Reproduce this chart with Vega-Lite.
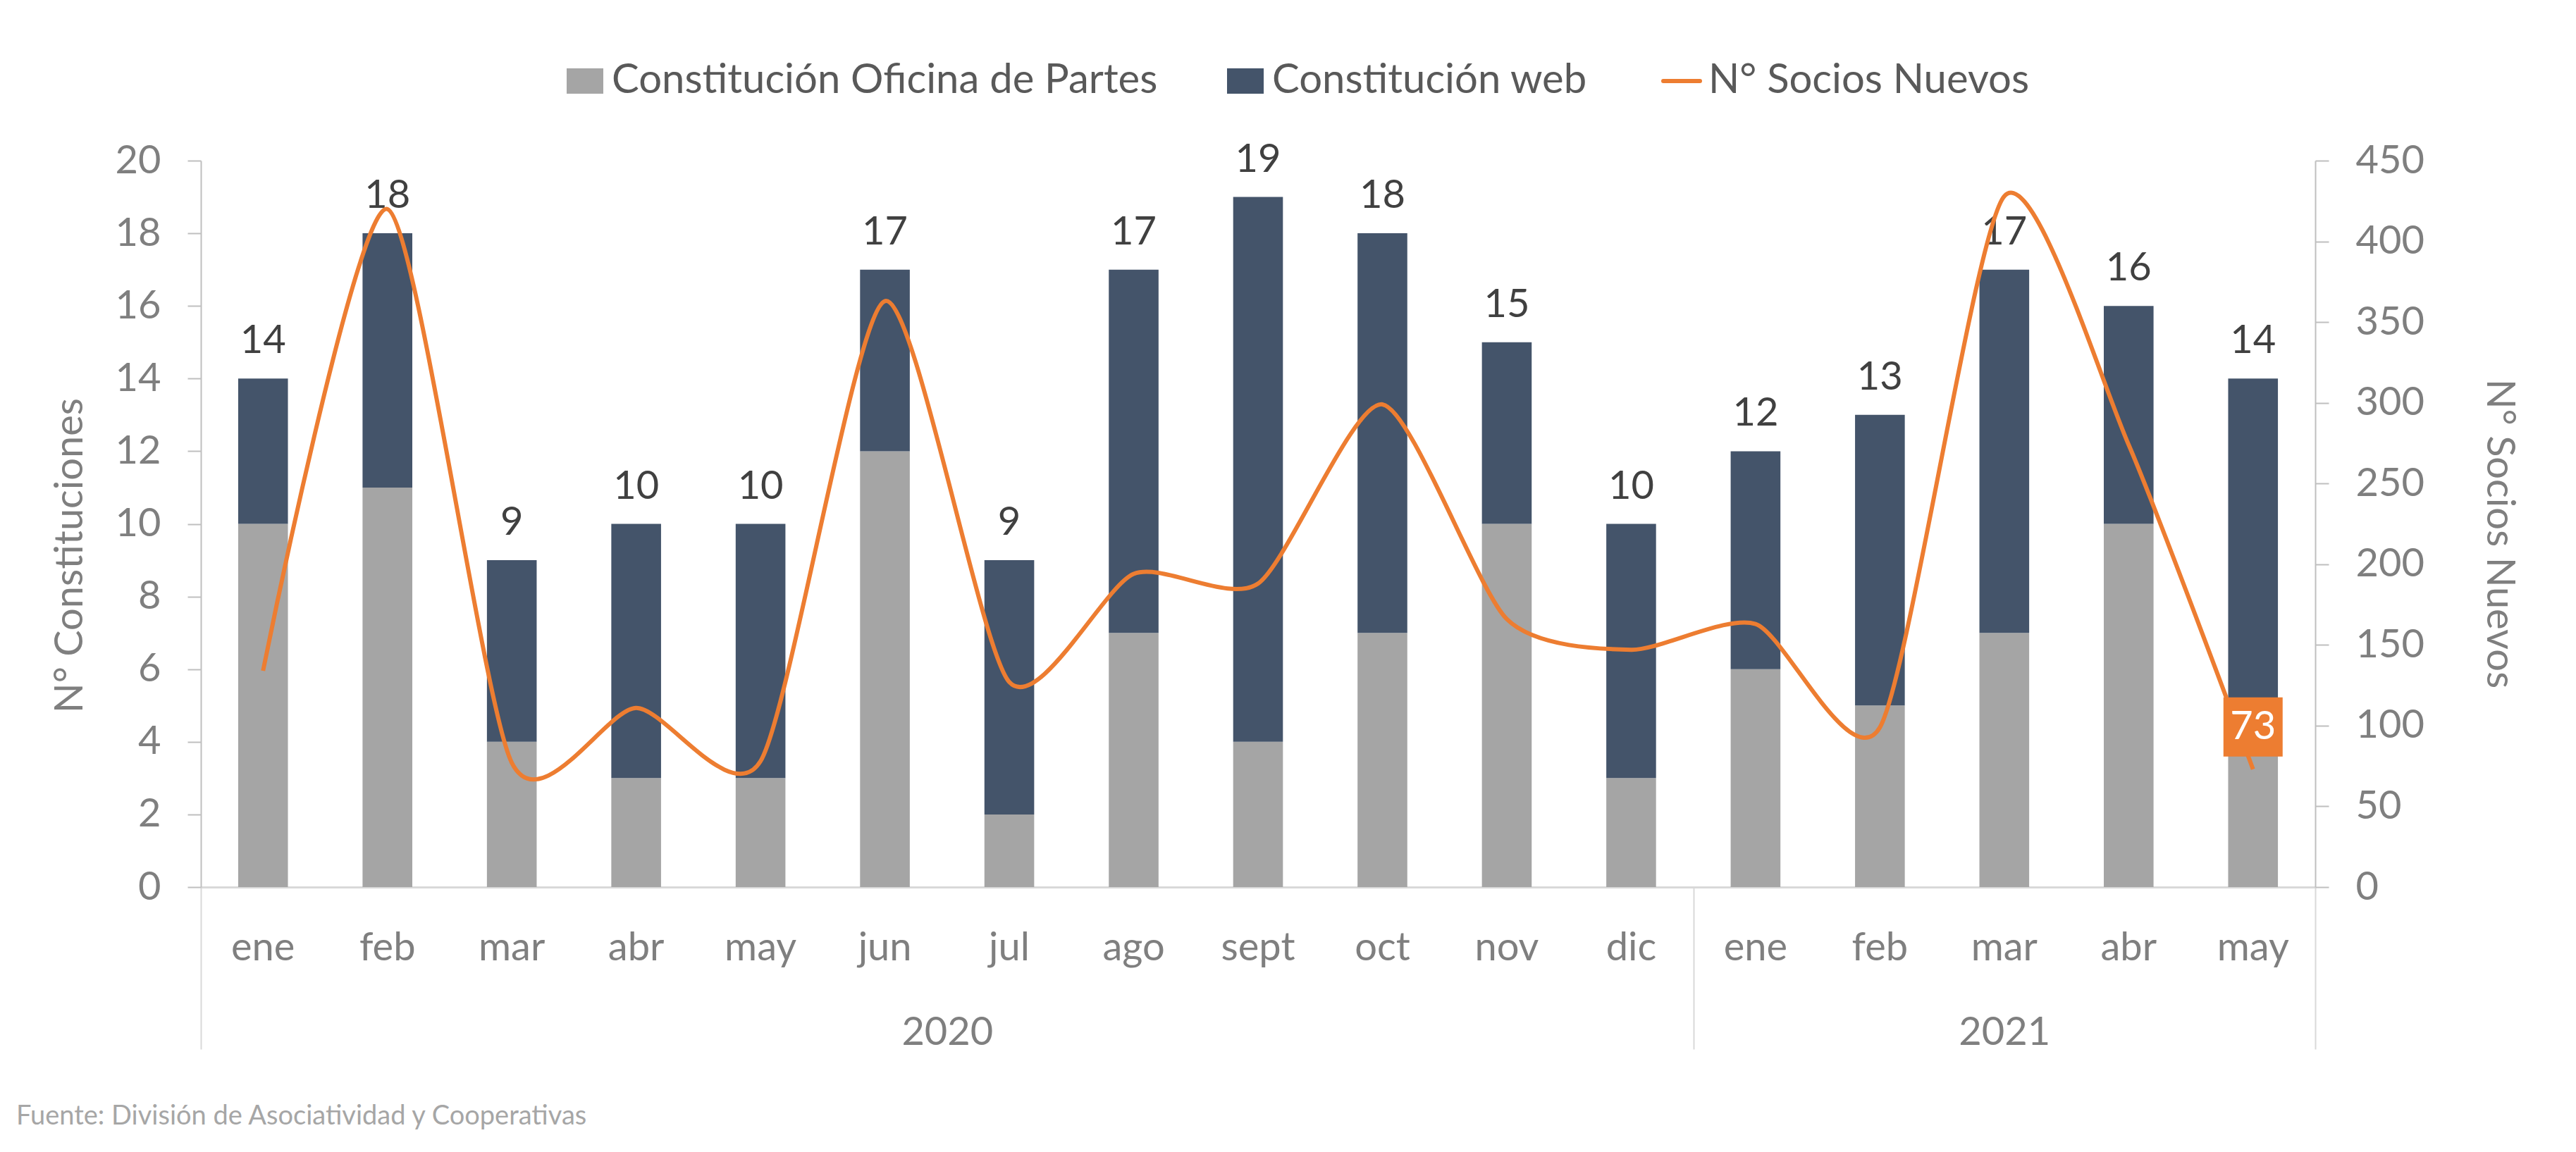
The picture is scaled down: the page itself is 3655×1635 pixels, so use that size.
{
  "$schema": "https://vega.github.io/schema/vega-lite/v6.json",
  "width": 3000,
  "height": 1031,
  "autosize": {"type": "none"},
  "padding": {"left": 285, "top": 228, "right": 370, "bottom": 376},
  "background": "white",
  "config": {"view": {"stroke": null}, "font": "Lato"},
  "title": {
    "text": "Fuente: División de Asociatividad y Cooperativas",
    "orient": "bottom", "anchor": "start", "frame": "group",
    "font": "Lato", "fontSize": 38, "fontWeight": "normal", "color": "#A6A6A6",
    "baseline": "top", "offset": 73, "dx": -262
  },
  "data": {"values": [
    {"periodo": "ene-2020", "oficina": 10, "web": 4, "socios": 134},
    {"periodo": "feb-2020", "oficina": 11, "web": 7, "socios": 420},
    {"periodo": "mar-2020", "oficina": 4, "web": 5, "socios": 77},
    {"periodo": "abr-2020", "oficina": 3, "web": 7, "socios": 111},
    {"periodo": "may-2020", "oficina": 3, "web": 7, "socios": 78},
    {"periodo": "jun-2020", "oficina": 12, "web": 5, "socios": 363},
    {"periodo": "jul-2020", "oficina": 2, "web": 7, "socios": 127},
    {"periodo": "ago-2020", "oficina": 7, "web": 10, "socios": 194},
    {"periodo": "sept-2020", "oficina": 4, "web": 15, "socios": 188},
    {"periodo": "oct-2020", "oficina": 7, "web": 11, "socios": 299},
    {"periodo": "nov-2020", "oficina": 10, "web": 5, "socios": 166},
    {"periodo": "dic-2020", "oficina": 3, "web": 7, "socios": 147},
    {"periodo": "ene-2021", "oficina": 6, "web": 6, "socios": 163},
    {"periodo": "feb-2021", "oficina": 5, "web": 8, "socios": 99},
    {"periodo": "mar-2021", "oficina": 7, "web": 10, "socios": 428},
    {"periodo": "abr-2021", "oficina": 10, "web": 6, "socios": 274},
    {"periodo": "may-2021", "oficina": 4, "web": 10, "socios": 73}
  ]},
  "layer": [
    {
      "transform": [{"fold": ["oficina", "web"], "as": ["serie", "valor"]}],
      "mark": {"type": "bar", "width": {"band": 0.4}},
      "encoding": {
        "x": {
          "field": "periodo", "type": "nominal",
          "scale": {"type": "band", "paddingInner": 0, "paddingOuter": 0,
            "domain": ["ene-2020","feb-2020","mar-2020","abr-2020","may-2020","jun-2020","jul-2020","ago-2020","sept-2020","oct-2020","nov-2020","dic-2020","ene-2021","feb-2021","mar-2021","abr-2021","may-2021"]},
          "axis": {
            "orient": "bottom", "title": null, "domain": true, "domainColor": "#D9D9D9", "domainWidth": 3,
            "ticks": false, "tickSize": 0, "labelAngle": 0, "labelOverlap": false,
            "labelExpr": "split(datum.value, '-')[0]",
            "labelFont": "Lato", "labelFontSize": 56, "labelColor": "#7F7F7F", "labelPadding": 59
          }
        },
        "y": {
          "field": "valor", "type": "quantitative", "stack": "zero",
          "scale": {"domain": [0, 20]},
          "axis": {
            "orient": "left", "values": [0,2,4,6,8,10,12,14,16,18,20], "grid": false,
            "domainColor": "#BFBFBF", "domainWidth": 2, "tickColor": "#BFBFBF", "tickWidth": 2, "tickSize": 19,
            "labelFont": "Lato", "labelFontSize": 56, "labelColor": "#7F7F7F", "labelPadding": 38,
            "title": "N° Constituciones", "titleFont": "Lato", "titleFontSize": 56, "titleFontWeight": "normal",
            "titleColor": "#7F7F7F", "titlePadding": 35, "titleY": 560
          }
        },
        "color": {
          "field": "serie", "type": "nominal",
          "scale": {"domain": ["oficina", "web", "socios"], "range": ["#A5A5A5", "#44546A", "#ED7D31"]},
          "legend": {
            "orient": "none", "legendX": 516, "legendY": -142, "direction": "horizontal", "title": null,
            "padding": 0, "labelFont": "Lato", "labelFontSize": 58, "labelColor": "#595959",
            "symbolSize": 2704, "symbolType": "square", "labelOffset": 9, "columnPadding": 95, "labelLimit": 2000,
            "labelExpr": "datum.value == 'oficina' ? 'Constitución Oficina de Partes' : datum.value == 'web' ? 'Constitución web' : 'N° Socios Nuevos'",
            "encode": {"symbols": {"update": {
              "shape": {"signal": "datum.value == 'socios' ? 'M-1,0H1' : 'M-1,-0.69H1V0.69H-1Z'"},
              "fill": {"signal": "datum.value == 'oficina' ? '#A5A5A5' : datum.value == 'web' ? '#44546A' : 'transparent'"},
              "stroke": {"signal": "datum.value == 'socios' ? '#ED7D31' : 'transparent'"},
              "strokeWidth": {"signal": "datum.value == 'socios' ? 6 : 0"},
              "strokeCap": {"value": "round"},
              "opacity": {"value": 1}
            }}}
          }
        },
        "order": {"field": "serie", "sort": "ascending"}
      }
    },
    {
      "transform": [{"fold": ["oficina", "web"], "as": ["serie", "valor"]}],
      "mark": {"type": "text", "font": "Lato", "fontSize": 56, "color": "#404040", "baseline": "alphabetic", "dy": -36},
      "encoding": {
        "x": {"field": "periodo", "type": "nominal",
          "scale": {"type": "band", "paddingInner": 0, "paddingOuter": 0,
            "domain": ["ene-2020","feb-2020","mar-2020","abr-2020","may-2020","jun-2020","jul-2020","ago-2020","sept-2020","oct-2020","nov-2020","dic-2020","ene-2021","feb-2021","mar-2021","abr-2021","may-2021"]},
          "axis": null},
        "y": {"aggregate": "sum", "field": "valor", "type": "quantitative", "scale": {"domain": [0, 20]}, "axis": null},
        "text": {"aggregate": "sum", "field": "valor", "type": "quantitative"}
      }
    },
    {
      "mark": {"type": "line", "interpolate": "cardinal", "tension": 0.3, "strokeWidth": 6},
      "encoding": {
        "x": {
          "field": "periodo", "type": "nominal",
          "scale": {"type": "band", "paddingInner": 0, "paddingOuter": 0,
            "domain": ["ene-2020","feb-2020","mar-2020","abr-2020","may-2020","jun-2020","jul-2020","ago-2020","sept-2020","oct-2020","nov-2020","dic-2020","ene-2021","feb-2021","mar-2021","abr-2021","may-2021"]},
          "axis": {
            "orient": "bottom", "title": null, "domain": false,
            "values": ["ene-2020", "jun-2020", "dic-2020", "mar-2021", "may-2021"],
            "ticks": true, "tickBand": "extent", "tickSize": 230, "tickWidth": 2, "tickColor": "#D9D9D9",
            "tickOpacity": {"condition": {"test": "datum.value != 'ene-2020' && datum.value != 'jun-2020' && datum.value != 'mar-2021'", "value": 1}, "value": 0},
            "labelExpr": "datum.value == 'jun-2020' ? '2020' : datum.value == 'mar-2021' ? '2021' : ''",
            "labelOffset": {"condition": {"test": "datum.value == 'jun-2020'", "value": 88.24}, "value": 0},
            "labelAngle": 0, "labelOverlap": false, "labelPadding": -51,
            "labelFont": "Lato", "labelFontSize": 56, "labelColor": "#7F7F7F"
          }
        },
        "y": {
          "field": "socios", "type": "quantitative", "scale": {"domain": [0, 450]},
          "axis": {
            "orient": "right", "values": [0,50,100,150,200,250,300,350,400,450], "grid": false,
            "domainColor": "#BFBFBF", "domainWidth": 2, "tickColor": "#BFBFBF", "tickWidth": 2, "tickSize": 19,
            "labelFont": "Lato", "labelFontSize": 56, "labelColor": "#7F7F7F", "labelPadding": 38,
            "title": "N° Socios Nuevos", "titleFont": "Lato", "titleFontSize": 56, "titleFontWeight": "normal",
            "titleColor": "#7F7F7F", "titlePadding": 77, "titleY": 529
          }
        },
        "color": {"datum": "socios", "type": "nominal"}
      }
    },
    {
      "transform": [{"filter": "datum.periodo == 'may-2021'"}],
      "mark": {"type": "point", "shape": "square", "size": 7056, "filled": true, "opacity": 1, "color": "#ED7D31", "yOffset": -60},
      "encoding": {
        "x": {"field": "periodo", "type": "nominal",
          "scale": {"type": "band", "paddingInner": 0, "paddingOuter": 0,
            "domain": ["ene-2020","feb-2020","mar-2020","abr-2020","may-2020","jun-2020","jul-2020","ago-2020","sept-2020","oct-2020","nov-2020","dic-2020","ene-2021","feb-2021","mar-2021","abr-2021","may-2021"]},
          "axis": null},
        "y": {"field": "socios", "type": "quantitative", "scale": {"domain": [0, 450]}, "axis": null}
      }
    },
    {
      "transform": [{"filter": "datum.periodo == 'may-2021'"}],
      "mark": {"type": "text", "font": "Lato", "fontSize": 56, "color": "white", "baseline": "middle", "yOffset": -60},
      "encoding": {
        "x": {"field": "periodo", "type": "nominal",
          "scale": {"type": "band", "paddingInner": 0, "paddingOuter": 0,
            "domain": ["ene-2020","feb-2020","mar-2020","abr-2020","may-2020","jun-2020","jul-2020","ago-2020","sept-2020","oct-2020","nov-2020","dic-2020","ene-2021","feb-2021","mar-2021","abr-2021","may-2021"]},
          "axis": null},
        "y": {"field": "socios", "type": "quantitative", "scale": {"domain": [0, 450]}, "axis": null},
        "text": {"field": "socios", "type": "quantitative"}
      }
    }
  ],
  "resolve": {"scale": {"y": "independent"}, "axis": {"x": "independent", "y": "independent"}}
}
